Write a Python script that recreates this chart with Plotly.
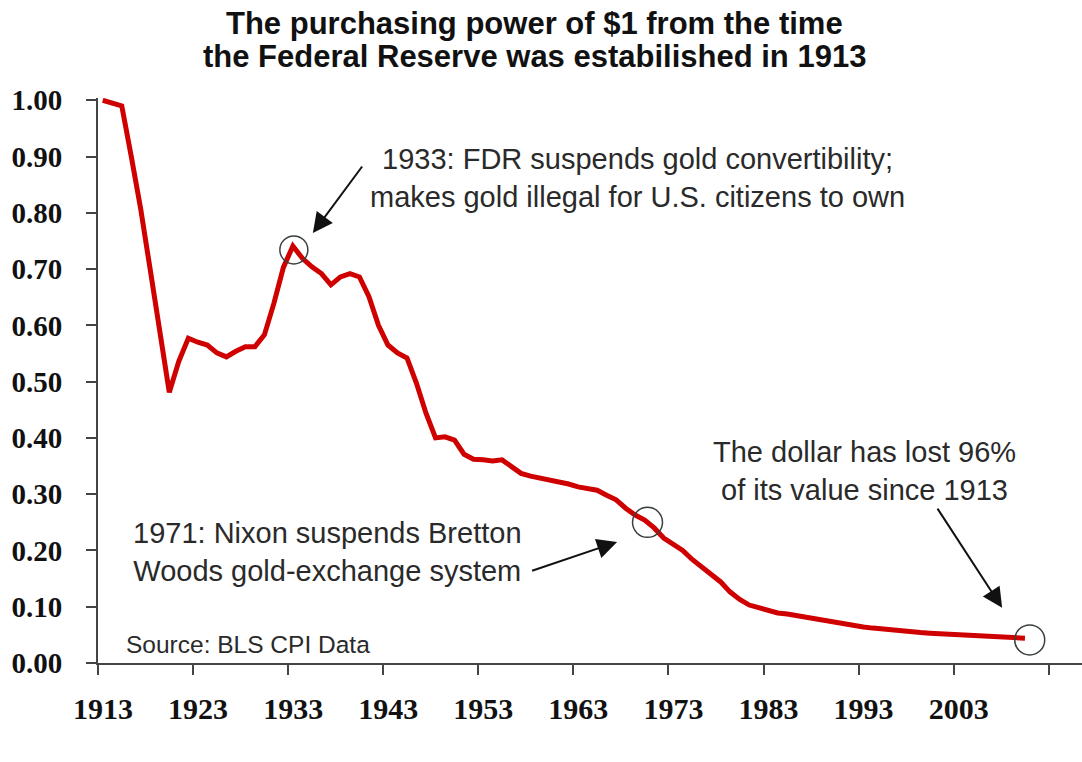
import plotly.graph_objects as go

# purchasing power of $1 (1913 = 1.00)
years = list(range(1913, 2011))
values = [
    1.00, 0.995, 0.99, 0.90, 0.806, 0.698, 0.595, 0.481, 0.536, 0.577,
    0.570, 0.565, 0.551, 0.544, 0.554, 0.562, 0.562, 0.583, 0.639, 0.703,
    0.741, 0.719, 0.704, 0.692, 0.672, 0.686, 0.692, 0.686, 0.651, 0.600,
    0.565, 0.551, 0.542, 0.497, 0.444, 0.400, 0.402, 0.396, 0.371, 0.362,
    0.361, 0.359, 0.361, 0.348, 0.337, 0.332, 0.329, 0.325, 0.322, 0.318,
    0.313, 0.311, 0.307, 0.298, 0.290, 0.275, 0.263, 0.254, 0.240, 0.222,
    0.212, 0.200, 0.184, 0.171, 0.158, 0.144, 0.126, 0.113, 0.103, 0.098,
    0.093, 0.089, 0.087, 0.084, 0.081, 0.078, 0.074, 0.071, 0.068, 0.066,
    0.064, 0.062, 0.060, 0.058, 0.056, 0.055, 0.054, 0.053, 0.052, 0.051,
    0.050, 0.049, 0.047, 0.046, 0.045, 0.044, 0.044, 0.044,
]

# category-style axis: ticks sit between years, labels on the year
tick_pos = [1912.5 + 10 * i for i in range(11)]
tick_labels = ["1913", "1923", "1933", "1943", "1953", "1963",
               "1973", "1983", "1993", "2003", ""]

title_lines = ["The purchasing power of $1 from the time",
               "the Federal Reserve was estabilished in 1913"]

circled = [(1933.1, 0.734, 14), (1970.3, 0.250, 15), (2010.5, 0.041, 15)]

# (head x, head y, tail x, tail y)
arrows = [
    (1935.1, 0.764, 1940.4, 0.885),
    (1967.1, 0.215, 1958.0, 0.163),
    (2007.6, 0.098, 2000.7, 0.277),
]

notes = [
    (1969.2, 0.861, "1933: FDR suspends gold convertibility;<br>makes gold illegal for U.S. citizens to own"),
    (1936.6, 0.197, "1971: Nixon suspends Bretton<br>Woods gold-exchange system"),
    (1993.15, 0.341, "The dollar has lost 96%<br>of its value since 1913"),
]

RED = "#cf0000"
AXIS = "#444444"
TEXT = "#2a2a2a"

fig = go.Figure()
fig.add_trace(go.Scatter(
    x=years, y=values, mode="lines",
    line=dict(color=RED, width=5),
    hoverinfo="skip", showlegend=False,
))

for cx, cy, r in circled:
    fig.add_shape(
        type="circle", xref="x", yref="y", xsizemode="pixel", ysizemode="pixel",
        xanchor=cx, yanchor=cy, x0=-r, x1=r, y0=-r, y1=r,
        line=dict(color="#3a3f3f", width=1.5),
    )

for hx, hy, tx, ty in arrows:
    fig.add_annotation(
        x=hx, y=hy, ax=tx, ay=ty, xref="x", yref="y", axref="x", ayref="y",
        text="", showarrow=True, arrowhead=2, arrowsize=2, arrowwidth=2,
        arrowcolor="#111111",
    )

for nx, ny, txt in notes:
    fig.add_annotation(
        x=nx, y=ny, xref="x", yref="y", text=txt, showarrow=False, align="center",
        font=dict(family="Liberation Sans", size=29, color=TEXT),
    )

fig.add_annotation(
    x=1915.2, y=0.032, xref="x", yref="y", xanchor="left", text="Source: BLS CPI Data",
    showarrow=False, font=dict(family="Liberation Sans", size=24.5, color=TEXT),
)

# two-line title, placed line by line to keep the tight spacing
for line, ty in zip(title_lines, [1.1310, 1.0726]):
    fig.add_annotation(
        x=0.4431, y=ty, xref="paper", yref="paper", xanchor="center", yanchor="middle",
        text=line, showarrow=False,
        font=dict(family="Liberation Sans", size=31, color="#111111", weight="bold"),
    )

fig.update_layout(
    width=1082, height=762,
    margin=dict(l=98, r=0, t=98, b=99),
    paper_bgcolor="white", plot_bgcolor="white",
)

fig.update_xaxes(
    range=[1912.5, 2016.0], tickvals=tick_pos, ticktext=tick_labels,
    ticks="outside", ticklen=10, tickwidth=2, tickcolor=AXIS,
    ticklabelshift=5, ticklabelstandoff=8,
    showline=True, linecolor=AXIS, linewidth=2, showgrid=False, zeroline=False,
    tickfont=dict(family="Liberation Serif", size=30, color="#111111", weight="bold"),
)
fig.update_yaxes(
    range=[0, 1.004], tickvals=[i / 10 for i in range(11)], tickformat=".2f",
    ticks="outside", ticklen=10, tickwidth=2, tickcolor=AXIS,
    ticklabelstandoff=18,
    showline=True, linecolor=AXIS, linewidth=2, showgrid=False, zeroline=False,
    tickfont=dict(family="Liberation Serif", size=29, color="#111111", weight="bold"),
)

# drop the default page margin so the figure sits at the window's corner
fig.write_html(
    "out.html",
    config={"displayModeBar": False},
    post_script="document.body.style.margin = '0';",
)
